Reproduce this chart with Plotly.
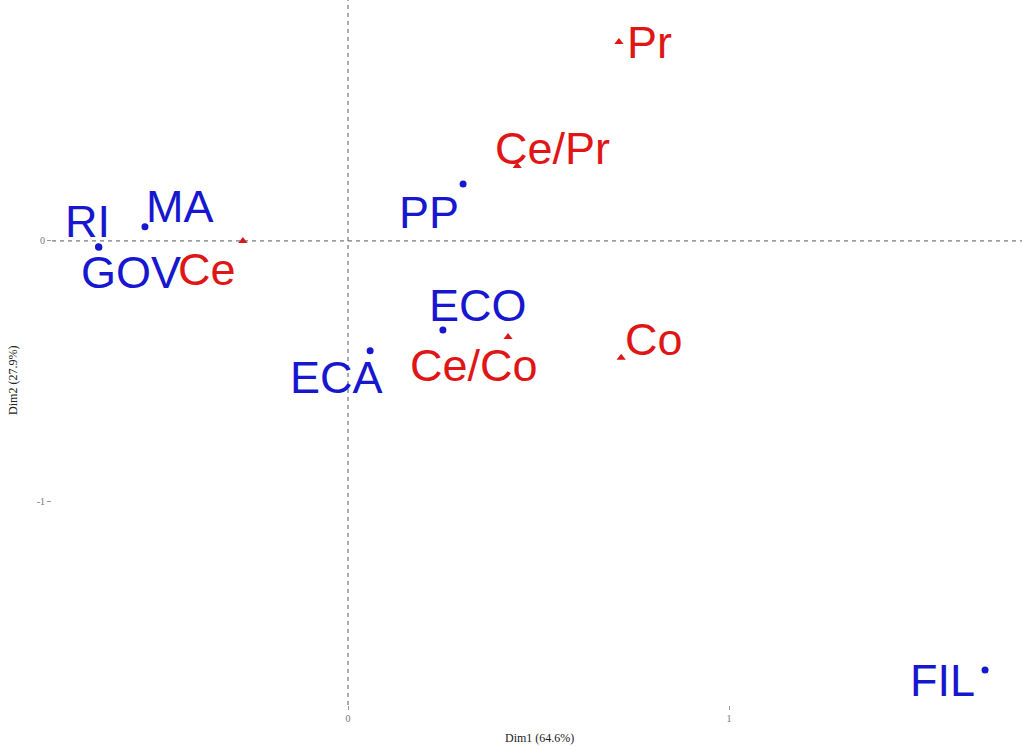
import plotly.graph_objects as go

# Row categories (blue points)
row_names = ["RI", "GOV", "MA", "PP", "ECO", "ECA", "FIL"]
row_dim1 = [-0.655, -0.654, -0.533, 0.302, 0.249, 0.058, 1.672]
row_dim2 = [-0.022, -0.024, 0.054, 0.218, -0.341, -0.421, -1.644]

# Column categories (red triangles)
col_names = ["Pr", "Ce/Pr", "Ce", "Ce/Co", "Co"]
col_dim1 = [0.711, 0.444, -0.276, 0.420, 0.717]
col_dim2 = [0.762, 0.287, 0.000, -0.368, -0.448]

# Label offsets in pixels (dx, dy upward) to keep labels apart
row_offsets = {"RI": (-11, 25), "GOV": (32, -25), "MA": (35, 20), "PP": (-34, -28),
               "ECO": (35, 24), "ECA": (-34, -27), "FIL": (-43, -10)}
col_offsets = {"Pr": (31, 0), "Ce/Pr": (35, 18), "Ce": (-36, -29),
               "Ce/Co": (-34, -29), "Co": (33, 18)}

BLUE = "#1717cf"
RED = "#e01616"
LABEL_FONT = "Liberation Sans, Arial, sans-serif"
LABEL_SIZE = 45

fig = go.Figure()
fig.add_trace(go.Scatter(x=row_dim1, y=row_dim2, mode="markers",
                         marker=dict(symbol="circle", size=7, color=BLUE),
                         name="rows", hoverinfo="text", text=row_names))
fig.add_trace(go.Scatter(x=col_dim1, y=col_dim2, mode="markers",
                         marker=dict(symbol="triangle-up", size=8, color=RED),
                         name="cols", hoverinfo="text", text=col_names))

annotations = []
for n, x, y in zip(row_names, row_dim1, row_dim2):
    dx, dy = row_offsets[n]
    annotations.append(dict(x=x, y=y, xref="x", yref="y", text=n, showarrow=False,
                            xshift=dx, yshift=dy,
                            font=dict(family=LABEL_FONT, size=LABEL_SIZE, color=BLUE)))
for n, x, y in zip(col_names, col_dim1, col_dim2):
    dx, dy = col_offsets[n]
    annotations.append(dict(x=x, y=y, xref="x", yref="y", text=n, showarrow=False,
                            xshift=dx, yshift=dy,
                            font=dict(family=LABEL_FONT, size=LABEL_SIZE, color=RED)))

# Axis titles
annotations.append(dict(x=0.503, y=-0.047, xref="paper", yref="paper",
                        text="Dim1 (64.6%)", showarrow=False,
                        xanchor="center", yanchor="middle",
                        font=dict(family="Liberation Serif, serif", size=12, color="#222")))
annotations.append(dict(x=-0.041, y=0.46, xref="paper", yref="paper",
                        text="Dim2 (27.9%)", showarrow=False, textangle=-90,
                        xanchor="center", yanchor="middle",
                        font=dict(family="Liberation Serif, serif", size=12, color="#222")))

# Dashed reference lines through the origin
shapes = [
    dict(type="line", xref="paper", yref="y", x0=0, x1=1, y0=0, y1=0,
         line=dict(color="#555", width=1, dash="4px,4px")),
    dict(type="line", xref="x", yref="paper", x0=0, x1=0, y0=0, y1=1,
         line=dict(color="#555", width=1, dash="4px,4px")),
]

axis_common = dict(showgrid=False, zeroline=False, showline=False,
                   ticks="outside", ticklen=4, tickcolor="#999",
                   tickfont=dict(family="Liberation Serif, serif", size=10, color="#777"))

fig.update_layout(
    width=1022, height=747,
    margin=dict(l=52, r=0, t=0, b=42),
    plot_bgcolor="white", paper_bgcolor="white",
    showlegend=False,
    xaxis=dict(range=[-0.777, 1.769], tickvals=[0, 1], ticktext=["0", "1"], **axis_common),
    yaxis=dict(range=[-1.778, 0.923], tickvals=[-1, 0], ticktext=["-1", "0"], **axis_common),
    annotations=annotations,
    shapes=shapes,
)

fig.write_html("out.html")
